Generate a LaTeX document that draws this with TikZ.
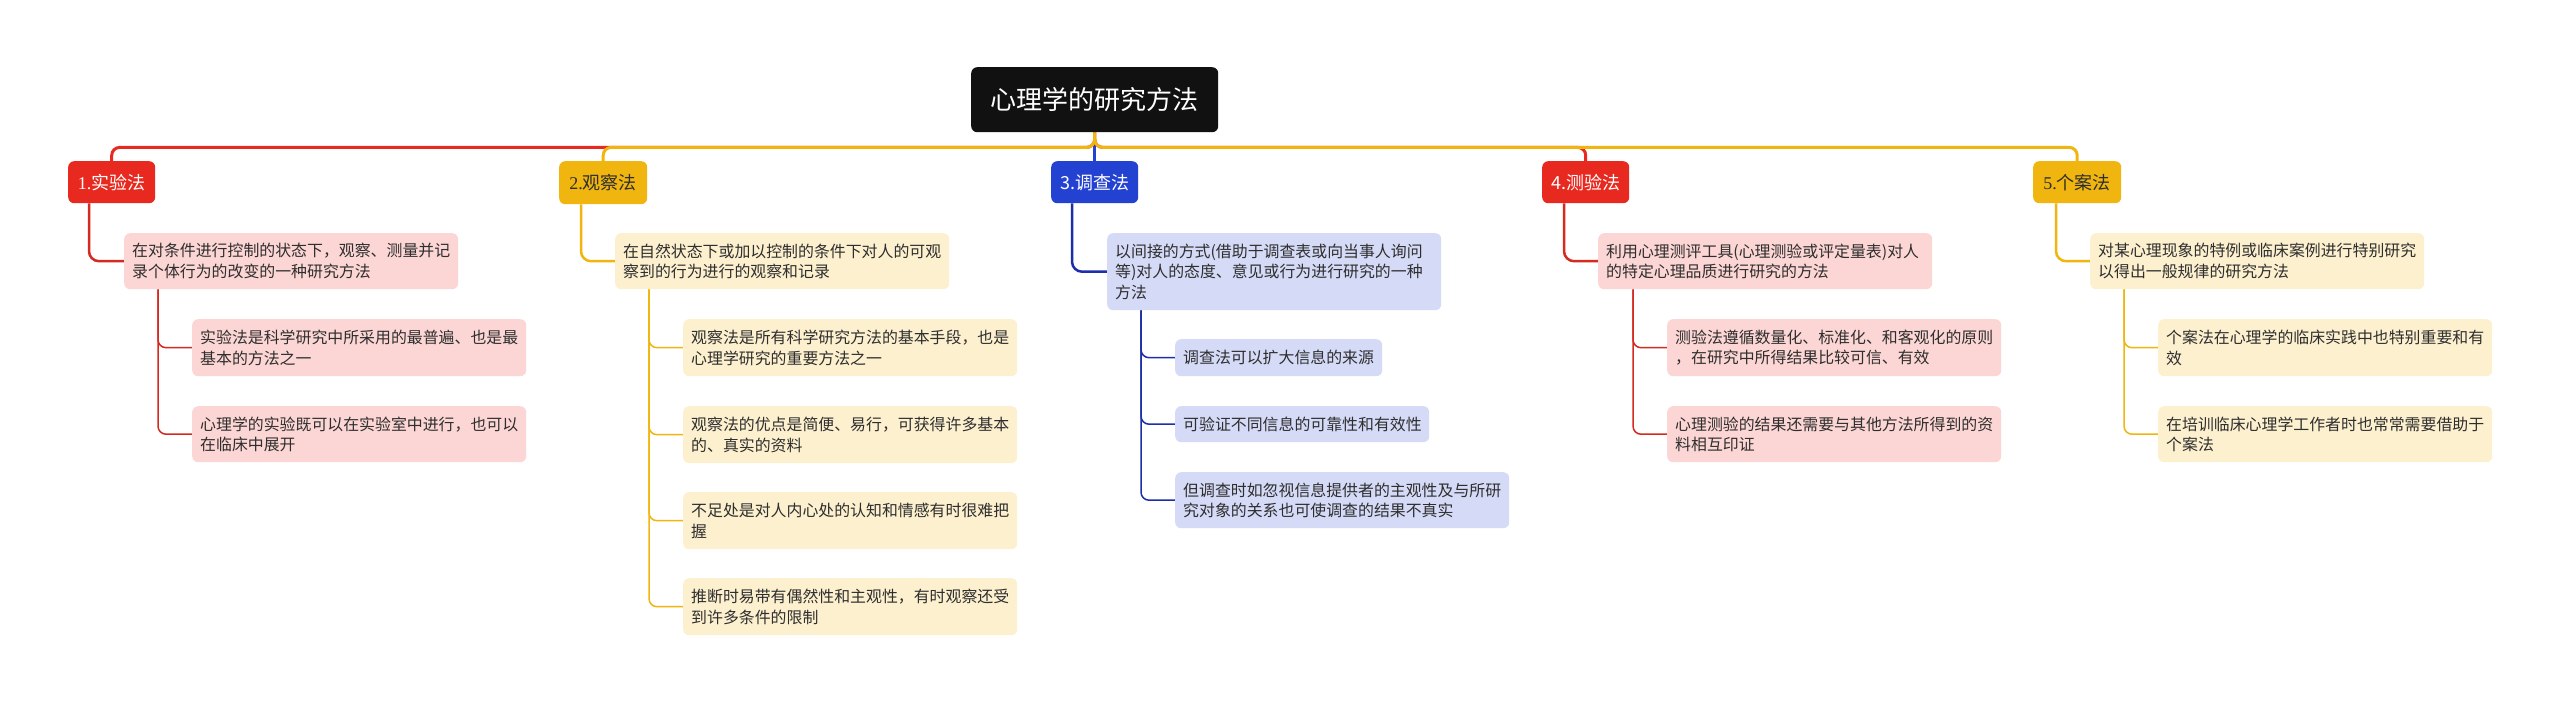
\documentclass[tikz,border=0pt]{standalone}
\usepackage{fontspec}
\setmainfont{Noto Sans CJK SC}
\newfontfamily\numserif{Liberation Serif}
\definecolor{cred}{HTML}{E8291F}
\definecolor{cyel}{HTML}{F0B60F}
\definecolor{cblue}{HTML}{2442D2}
\definecolor{cpink}{HTML}{FCD6D4}
\definecolor{ccream}{HTML}{FDF0CF}
\definecolor{clav}{HTML}{D5DAF7}
\definecolor{croot}{HTML}{111111}
\definecolor{ctext}{HTML}{2E2E2E}
\definecolor{credline}{HTML}{D42A1F}
\definecolor{cblueline}{HTML}{1D2FA8}
\pgfdeclarelayer{bg}
\pgfsetlayers{bg,main}
\begin{document}
\begin{tikzpicture}[x=1pt,y=-1pt,
  box/.style={rounded corners=6pt, inner sep=0pt, anchor=north west},
  rootbox/.style={box, fill=croot, text=white, font=\fontsize{26}{30}\selectfont, minimum width=247pt, minimum height=65pt},
  branch/.style={box, font=\fontsize{18}{22}\selectfont, minimum height=42pt},
  leaf/.style={box, inner xsep=8pt, align=left, text=ctext, font=\fontsize{15.9}{20.5}\selectfont, text width=318pt},
  bus/.style={line width=3pt, rounded corners=8pt},
  lone/.style={line width=2.5pt, rounded corners=10pt},
  ltwo/.style={line width=1.5pt, rounded corners=8pt},
]
\useasboundingbox (0,0) rectangle (2560,703);

% root
\node[rootbox] (root) at (971,67) {心理学的研究方法};

% branches
\node[branch, fill=cred, text=white, minimum width=87pt] (b1) at (68,161) {{\numserif 1.}实验法};
\node[branch, fill=cyel, text=ctext, minimum width=88pt, minimum height=43pt] (b2) at (559,161) {{\numserif 2.}观察法};
\node[branch, fill=cblue, text=white, minimum width=87pt] (b3) at (1051,161) {3.调查法};
\node[branch, fill=cred, text=white, minimum width=87pt] (b4) at (1542,161) {4.测验法};
\node[branch, fill=cyel, text=ctext, minimum width=88pt] (b5) at (2033,161) {{\numserif 5.}个案法};

% group 1
\node[leaf, fill=cpink, minimum height=56pt] (c1) at (124,233) {在对条件进行控制的状态下，观察、测量并记\\录个体行为的改变的一种研究方法};
\node[leaf, fill=cpink, minimum height=57pt] (g11) at (192,319) {实验法是科学研究中所采用的最普遍、也是最\\基本的方法之一};
\node[leaf, fill=cpink, minimum height=56pt] (g12) at (192,406) {心理学的实验既可以在实验室中进行，也可以\\在临床中展开};

% group 2
\node[leaf, fill=ccream, minimum height=56pt] (c2) at (615,233) {在自然状态下或加以控制的条件下对人的可观\\察到的行为进行的观察和记录};
\node[leaf, fill=ccream, minimum height=57pt] (g21) at (683,319) {观察法是所有科学研究方法的基本手段，也是\\心理学研究的重要方法之一};
\node[leaf, fill=ccream, minimum height=57pt] (g22) at (683,406) {观察法的优点是简便、易行，可获得许多基本\\的、真实的资料};
\node[leaf, fill=ccream, minimum height=57pt] (g23) at (683,492) {不足处是对人内心处的认知和情感有时很难把\\握};
\node[leaf, fill=ccream, minimum height=57pt] (g24) at (683,578) {推断时易带有偶然性和主观性，有时观察还受\\到许多条件的限制};

% group 3
\node[leaf, fill=clav, minimum height=77pt] (c3) at (1107,233) {以间接的方式(借助于调查表或向当事人询问\\等)对人的态度、意见或行为进行研究的一种\\方法};
\node[leaf, fill=clav, text width=191pt, minimum height=37pt] (g31) at (1175,339) {调查法可以扩大信息的来源};
\node[leaf, fill=clav, text width=238pt, minimum height=36pt] (g32) at (1175,406) {可验证不同信息的可靠性和有效性};
\node[leaf, fill=clav, minimum height=56pt] (g33) at (1175,472) {但调查时如忽视信息提供者的主观性及与所研\\究对象的关系也可使调查的结果不真实};

% group 4
\node[leaf, fill=cpink, minimum height=56pt] (c4) at (1598,233) {利用心理测评工具(心理测验或评定量表)对人\\的特定心理品质进行研究的方法};
\node[leaf, fill=cpink, minimum height=57pt] (g41) at (1667,319) {测验法遵循数量化、标准化、和客观化的原则\\，在研究中所得结果比较可信、有效};
\node[leaf, fill=cpink, minimum height=56pt] (g42) at (1667,406) {心理测验的结果还需要与其他方法所得到的资\\料相互印证};

% group 5
\node[leaf, fill=ccream, minimum height=56pt] (c5) at (2090,233) {对某心理现象的特例或临床案例进行特别研究\\以得出一般规律的研究方法};
\node[leaf, fill=ccream, minimum height=57pt] (g51) at (2158,319) {个案法在心理学的临床实践中也特别重要和有\\效};
\node[leaf, fill=ccream, minimum height=56pt] (g52) at (2158,406) {在培训临床心理学工作者时也常常需要借助于\\个案法};

\begin{pgfonlayer}{bg}
\fill[white] (0,0) rectangle (2560,703);
% bus connectors
\draw[bus, cblue] (root.south) -- (b3.north);
\draw[bus, cred] (root.south) -- ++(0,15) -| (b1.north);
\draw[bus, cred] (root.south) -- ++(0,15) -| (b4.north);
\draw[bus, cyel] (root.south) -- ++(0,15) -| (b2.north);
\draw[bus, cyel] (root.south) -- ++(0,15) -| (b5.north);
% branch to child
\draw[lone, credline] ([xshift=21pt]b1.south west) |- (c1.west);
\draw[lone, cyel] ([xshift=22pt]b2.south west) |- (c2.west);
\draw[lone, cblueline] ([xshift=21pt]b3.south west) |- (c3.west);
\draw[lone, credline] ([xshift=22pt]b4.south west) |- (c4.west);
\draw[lone, cyel] ([xshift=23pt]b5.south west) |- (c5.west);
% child to grandchild
\draw[ltwo, credline] ([xshift=34pt]c1.south west) |- (g11.west);
\draw[ltwo, credline] ([xshift=34pt]c1.south west) |- (g12.west);
\draw[ltwo, cyel] ([xshift=34pt]c2.south west) |- (g21.west);
\draw[ltwo, cyel] ([xshift=34pt]c2.south west) |- (g22.west);
\draw[ltwo, cyel] ([xshift=34pt]c2.south west) |- (g23.west);
\draw[ltwo, cyel] ([xshift=34pt]c2.south west) |- (g24.west);
\draw[ltwo, cblueline] ([xshift=34pt]c3.south west) |- (g31.west);
\draw[ltwo, cblueline] ([xshift=34pt]c3.south west) |- (g32.west);
\draw[ltwo, cblueline] ([xshift=34pt]c3.south west) |- (g33.west);
\draw[ltwo, credline] ([xshift=35pt]c4.south west) |- (g41.west);
\draw[ltwo, credline] ([xshift=35pt]c4.south west) |- (g42.west);
\draw[ltwo, cyel] ([xshift=34pt]c5.south west) |- (g51.west);
\draw[ltwo, cyel] ([xshift=34pt]c5.south west) |- (g52.west);
\end{pgfonlayer}
\end{tikzpicture}
\end{document}
